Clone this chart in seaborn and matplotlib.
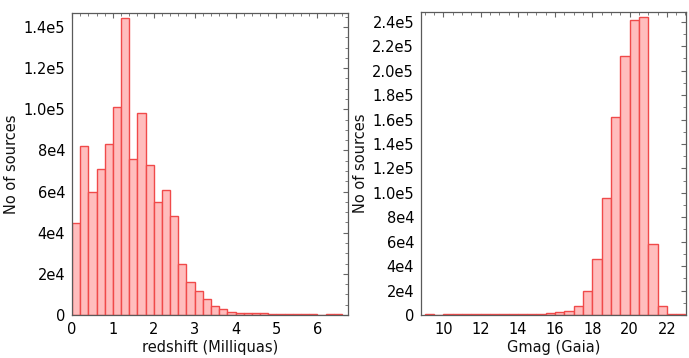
import numpy as np
import pandas as pd
import seaborn as sns
import matplotlib
matplotlib.use("Agg")
import matplotlib.pyplot as plt
from matplotlib.ticker import MultipleLocator, FixedLocator, FixedFormatter

# --- redshift histogram (Milliquas), bins of 0.2 from 0 to 6.6 ---
z_edges = [round(0.2 * i, 2) for i in range(34)]
z_counts = [44700, 82000, 59600, 71000, 83200, 101300, 144200, 75600, 98200,
            73000, 55100, 60600, 48000, 25000, 15800, 11500, 7600, 4200, 3100,
            1600, 1200, 900, 800, 750, 700, 650, 600, 600, 550, 550, 0, 500, 500]
z_yticks = [0, 2e4, 4e4, 6e4, 8e4, 1.0e5, 1.2e5, 1.4e5]
z_yticklabels = ["0", "2e4", "4e4", "6e4", "8e4", "1.0e5", "1.2e5", "1.4e5"]

# --- Gaia G magnitude histogram, bins of 0.5 from 9 to 23 ---
g_edges = [9.0 + 0.5 * i for i in range(29)]
g_counts = [700, 0, 650, 650, 650, 650, 650, 650, 650, 650, 700, 700, 750,
            1400, 2200, 3400, 7400, 19400, 45900, 96100, 161700, 212000,
            241300, 243800, 58400, 7500, 800, 700]
g_yticks = [0, 2e4, 4e4, 6e4, 8e4, 1.0e5, 1.2e5, 1.4e5, 1.6e5, 1.8e5,
            2.0e5, 2.2e5, 2.4e5]
g_yticklabels = ["0", "2e4", "4e4", "6e4", "8e4", "1.0e5", "1.2e5", "1.4e5",
                 "1.6e5", "1.8e5", "2.0e5", "2.2e5", "2.4e5"]

sns.set_style("white")
plt.rcParams["font.family"] = ["DejaVu Sans"]

W, H = 689, 358
fig = plt.figure(figsize=(W / 100, H / 100), dpi=100)
ax1 = fig.add_axes([72 / W, 1 - 315 / H, (348 - 72) / W, (315 - 13) / H])
ax2 = fig.add_axes([421 / W, 1 - 315 / H, (686 - 421) / W, (315 - 12) / H])

face = "#ffbdbd"
edge = "#f04a4a"


def draw(ax, edges, counts, xlim, ylim, xmajor, xminor, yticks, ylabels,
         yminor, xlabel):
    centers = [(a + b) / 2 for a, b in zip(edges[:-1], edges[1:])]
    df = pd.DataFrame({"x": centers, "n": counts})
    sns.histplot(data=df, x="x", weights="n", bins=list(edges), ax=ax,
                 color=face, alpha=1.0, edgecolor=edge, linewidth=1.0)
    ax.set_xlim(*xlim)
    ax.set_ylim(*ylim)
    ax.xaxis.set_major_locator(MultipleLocator(xmajor))
    ax.xaxis.set_minor_locator(MultipleLocator(xminor))
    ax.yaxis.set_major_locator(FixedLocator(yticks))
    ax.yaxis.set_major_formatter(FixedFormatter(ylabels))
    ax.yaxis.set_minor_locator(MultipleLocator(yminor))
    ax.tick_params(which="both", direction="in", top=True, right=True,
                   color="#666666", labelsize=10.5, labelcolor="#000000")
    ax.tick_params(axis="x", which="major", pad=5)
    ax.tick_params(axis="y", which="major", pad=5)
    ax.tick_params(which="major", length=3.5, width=0.8)
    ax.tick_params(which="minor", length=2, width=0.6)
    for s in ax.spines.values():
        s.set_color("#5a5a5a")
        s.set_linewidth(0.9)
    ax.set_xlabel(xlabel, fontsize=10.5, color="#111111", labelpad=2)
    ax.set_ylabel("No of sources", fontsize=10.5, color="#111111", labelpad=3)


draw(ax1, z_edges, z_counts, (0, 6.75), (0, 1.468e5), 1, 0.2,
     z_yticks, z_yticklabels, 5e3, "redshift (Milliquas)")
draw(ax2, g_edges, g_counts, (8.8, 23.03), (0, 2.48e5), 2, 0.5,
     g_yticks, g_yticklabels, 1e4, "Gmag (Gaia)")

fig.savefig("out.png", dpi=100, facecolor="white")
